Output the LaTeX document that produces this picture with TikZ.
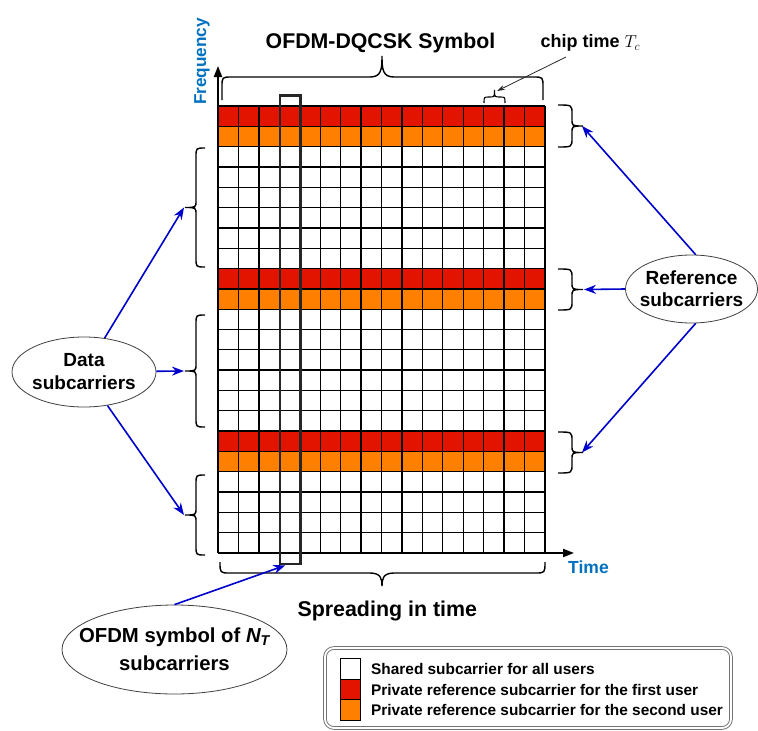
\documentclass[tikz,border=0pt]{standalone}
\usepackage{fontspec}
\setmainfont{Liberation Sans}
\usetikzlibrary{shapes.geometric,arrows.meta}
\definecolor{subred}{RGB}{226,20,0}
\definecolor{suborange}{RGB}{255,128,0}
\definecolor{arrowblue}{RGB}{0,0,204}
\definecolor{axisblue}{RGB}{0,112,192}

% vertical curly brace: x, y1, y2, offset of the bar, offset of the tip (signed)
\newcommand\vcurly[5]{%
  \pgfmathsetmacro\brmid{(#2+#3)/2}%
  \pgfmathsetmacro\brbar{#1+#4}%
  \pgfmathsetmacro\brtip{#1+#5}%
  \draw[bracestroke] (#1,#2) .. controls (\brbar,#2) .. (\brbar,{#2+9})
    -- (\brbar,{\brmid-7}) .. controls (\brbar,\brmid) .. (\brtip,\brmid)
    .. controls (\brbar,\brmid) .. (\brbar,{\brmid+7})
    -- (\brbar,{#3-9}) .. controls (\brbar,#3) .. (#1,#3);}

\begin{document}
\begin{tikzpicture}[x=1pt,y=-1pt,font=\bfseries,
  gridline/.style={black,line width=1.3pt},
  axisline/.style={black,line width=2pt,-{Triangle[length=11pt,width=8pt]}},
  bracestroke/.style={black,line width=1.4pt},
  bluearrow/.style={draw=arrowblue,line width=1.6pt,-{Stealth[length=12pt,width=9pt]}},
  thinarrow/.style={draw=black!85,line width=0.8pt,-{Stealth[length=8pt,width=5pt]}},
  bubble/.style={ellipse,draw=black!75,fill=white,line width=0.8pt,inner sep=0pt},
  bubtext/.style={align=center,inner sep=0pt,font=\fontsize{19}{23}\selectfont\bfseries},
  swatch/.style={draw=black,line width=0.8pt,minimum width=20.5pt,minimum height=20.5pt,inner sep=0pt},
  legtext/.style={anchor=west,inner sep=0pt,font=\fontsize{15.4}{18}\selectfont\bfseries},
  ]
\useasboundingbox (0,0) rectangle (758,731);

% coloured reference rows of the time-frequency grid
\foreach \r/\c in {0/subred,1/suborange,8/subred,9/suborange,16/subred,17/suborange}
  \fill[\c] (218,{106+\r*20.318}) rectangle (545,{106+(\r+1)*20.318});
% grid lines: 16 chips by 22 subcarriers
\foreach \i in {0,...,16}
  \draw[gridline] ({218+\i*20.4375},106) -- ({218+\i*20.4375},553);
\foreach \j in {0,...,22}
  \draw[gridline] (218,{106+\j*20.318}) -- (545,{106+\j*20.318});

% axes
\coordinate (origin) at (218,553);
\coordinate (fend) at (218,66);
\coordinate (tend) at (574,553);
\draw[axisline] (origin) -- (fend);
\draw[axisline] (origin) -- (tend);
\node[text=axisblue,rotate=90,font=\fontsize{17.2}{20}\selectfont\bfseries] (freq) at (202,61.5) {Frequency};
\node[text=axisblue,font=\fontsize{17.5}{20}\selectfont\bfseries] (time) at (588.5,567) {Time};

% one OFDM symbol (a single column)
\node[draw=black!85,line width=2.6pt,minimum width=20.5pt,minimum height=468.3pt,inner sep=0pt] (ofdmcol) at (290.3,329.9) {};

% brace over the whole symbol
\draw[bracestroke] (222,100) -- (222,87) .. controls (222,77) .. (232,77) -- (370,77)
  .. controls (381,77) and (382,70) .. (382,56)
  .. controls (382,70) and (383,77) .. (394,77) -- (533,77)
  .. controls (543,77) .. (543,87) -- (543,100);
\node[font=\fontsize{21.3}{24}\selectfont\bfseries] (title) at (380.5,43) {OFDM-DQCSK Symbol};

% brace over one chip
\draw[bracestroke,line width=1.1pt] (484,103) .. controls (484,97) .. (489,97)
  .. controls (494.5,97) .. (494.5,90) .. controls (494.5,97) .. (500,97)
  .. controls (505,97) .. (505,103);
\node[anchor=west,inner sep=0pt,font=\fontsize{18}{20}\selectfont\bfseries] (chip) at (540.5,43) {chip time $T_c$};
\coordinate (chipfrom) at (566,57);
\coordinate (chiptip) at (497,91);
\draw[thinarrow] (chipfrom) -- (chiptip);

% brace under the whole symbol
\draw[bracestroke] (220,562) .. controls (220,573) .. (230,573) -- (370,573)
  .. controls (381,573) and (382,579) .. (382,586)
  .. controls (382,579) and (383,573) .. (394,573) -- (535,573)
  .. controls (545,573) .. (545,562);
\node[font=\fontsize{21.4}{24}\selectfont\bfseries] (spread) at (387.3,611) {Spreading in time};

% braces grouping the data subcarriers
\vcurly{205}{148}{267}{-9}{-20}
\vcurly{205}{315}{427}{-9}{-20}
\vcurly{205}{475}{555}{-9}{-20}
\coordinate (dt1) at (184,207.5);
\coordinate (dt2) at (184,371);
\coordinate (dt3) at (184,515);

% braces grouping the reference subcarriers
\vcurly{558}{105}{147}{14}{25}
\vcurly{558}{269}{310}{14}{25}
\vcurly{558}{432}{473}{14}{25}
\coordinate (rt1) at (582,126);
\coordinate (rt2) at (584,289.5);
\coordinate (rt3) at (582,452.5);

% callouts
\node[bubble,minimum width=144pt,minimum height=70pt] (data) at (84,372) {};
\node[bubtext] (datatext) at (data) {Data\\subcarriers};
\node[bubble,minimum width=132pt,minimum height=68pt] (ref) at (691.5,289) {};
\node[bubtext,font=\fontsize{19}{22}\selectfont\bfseries] (reftext) at (ref) {Reference\\subcarriers};
\node[bubble,minimum width=225pt,minimum height=89pt] (ofdm) at (174.5,649.5) {};
\node[bubtext,font=\fontsize{20.3}{28}\selectfont\bfseries] (ofdmtext) at (ofdm)
  {OFDM symbol of {\itshape N}\textsubscript{\itshape T}\\subcarriers};

\draw[bluearrow] (data) -- (dt1);
\draw[bluearrow] (data) -- (dt2);
\draw[bluearrow] (data) -- (dt3);
\draw[bluearrow] (ref.83) -- (rt1);
\draw[bluearrow] (ref.west) -- (rt2);
\draw[bluearrow] (ref.-83) -- (rt3);
\draw[bluearrow] (ofdm.north) -- ([xshift=-5pt]ofdmcol.south);

% legend
\node[draw=black!55,double,double distance=1.8pt,line width=0.9pt,rounded corners=9pt,
  minimum width=406pt,minimum height=80pt,inner sep=0pt] (legend) at (528,688) {};
\node[swatch,fill=white] (sw1) at (350.3,669) {};
\node[swatch,fill=subred] (sw2) at (350.3,689.5) {};
\node[swatch,fill=suborange] (sw3) at (350.3,710) {};
\node[legtext] (lt1) at (371,669) {Shared subcarrier for all users};
\node[legtext] (lt2) at (371,689.5) {Private reference subcarrier for the first user};
\node[legtext] (lt3) at (371,710) {Private reference subcarrier for the second user};
\end{tikzpicture}
\end{document}
